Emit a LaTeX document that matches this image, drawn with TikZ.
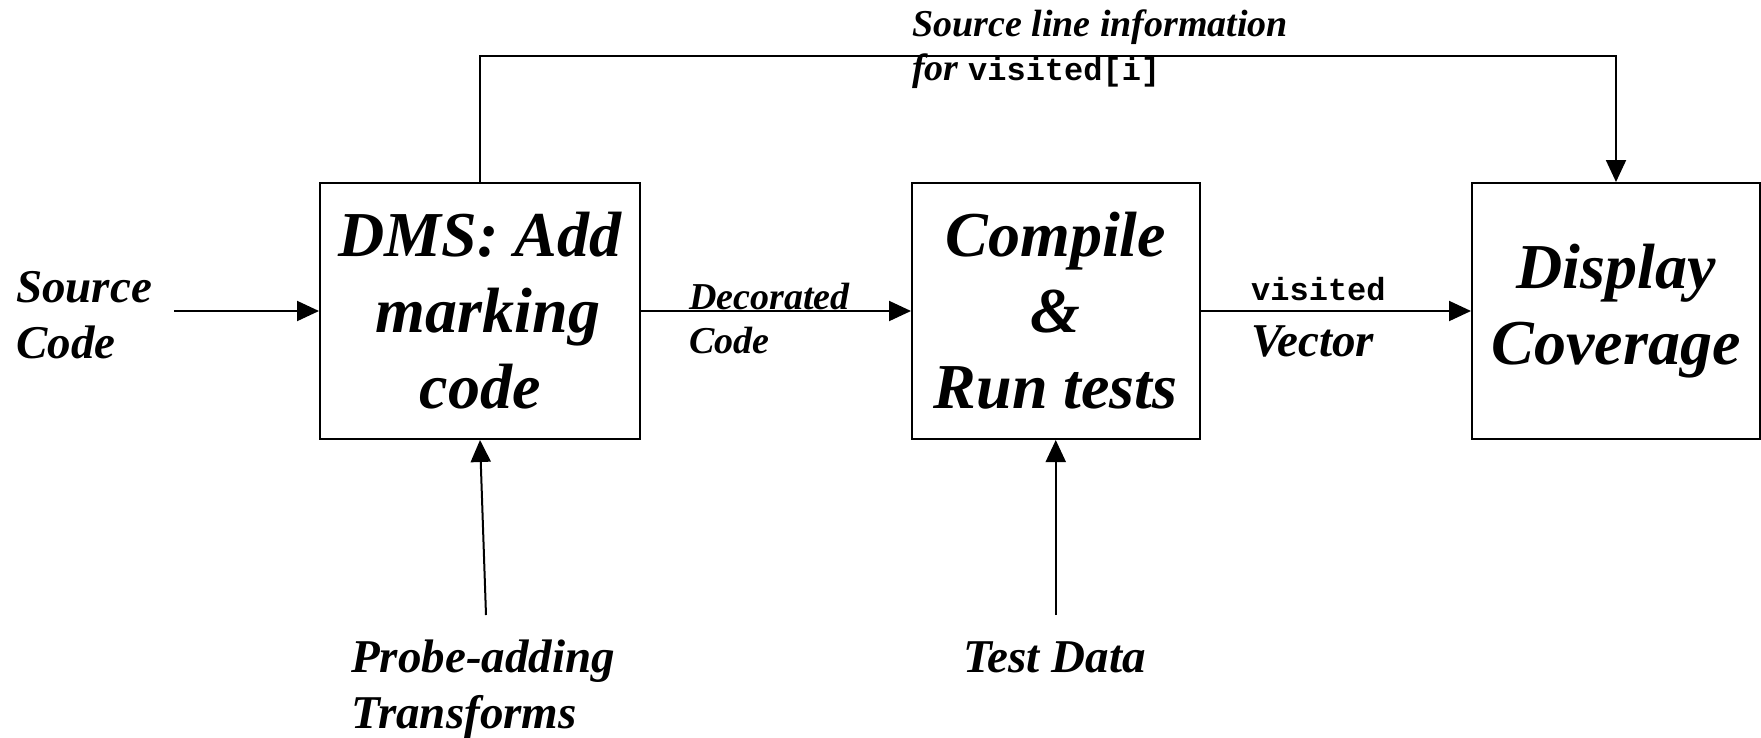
\documentclass[tikz,border=0pt]{standalone}
\usepackage{fontspec}
\setmainfont{Liberation Serif}
\setmonofont{Liberation Mono}
\usetikzlibrary{arrows.meta}
\tikzset{
  box/.style={draw, line width=2pt, minimum width=#1, minimum height=256pt,
    inner sep=0pt, align=center, font=\fontsize{64}{76}\selectfont\bfseries\itshape},
  lbl/.style={inner sep=0pt, align=left, anchor=base west,
    font=\fontsize{47}{56}\selectfont\bfseries\itshape},
  smalllbl/.style={lbl, font=\fontsize{38}{44}\selectfont\bfseries\itshape},
  arr/.style={line width=2pt, -{Triangle[length=22pt,width=20pt]}}
}
\newcommand{\vcode}[1]{{\ttfamily\upshape\bfseries\fontsize{32}{38}\selectfont #1}}

\begin{document}
\begin{tikzpicture}[x=1pt, y=-1pt]
  \useasboundingbox (0,0) rectangle (1761,737);

  %%%%% boxes %%%%%
  \node[box=320pt] (dms) at (480,311) {DMS: Add\\\hspace*{.25em}marking\\code};
  \node[box=287.5pt] (run) at (1055.75,311) {Compile\\\&\\Run tests};
  \node[box=288pt] (disp) at (1616,311) {Display\\Coverage};

  %%%%% labels (anchored at the baseline of their last line) %%%%%
  \node[lbl] (src) at (16,358) {Source\\Code};
  \node[smalllbl] (deco) at (689,353) {Decorated\\Code};
  \node[lbl] (vis) at (1251,356) {\vcode{visited}\\Vector};
  \node[smalllbl] (info) at (912,80) {Source line information\\for \vcode{visited[i]}};
  \node[lbl] (probe) at (351,728) {Probe-adding\\Transforms};
  \node[lbl] (tdata) at (963,672) {Test Data};

  %%%%% connectors %%%%%
  \coordinate (srcend) at (174,311);
  \coordinate (probeend) at (486,615);
  \coordinate (tdend) at (1055.75,615);
  \coordinate (fbtop) at (0,56);

  \draw[arr] (srcend) -- (dms.west);
  \draw[arr] (dms.east) -- (run.west);
  \draw[arr] (run.east) -- (disp.west);
  \draw[arr] (probeend) -- (dms.south);
  \draw[arr] (tdend) -- (run.south);
  \draw[arr] (dms.north) |- (fbtop -| disp.north) -- (disp.north);
\end{tikzpicture}
\end{document}
